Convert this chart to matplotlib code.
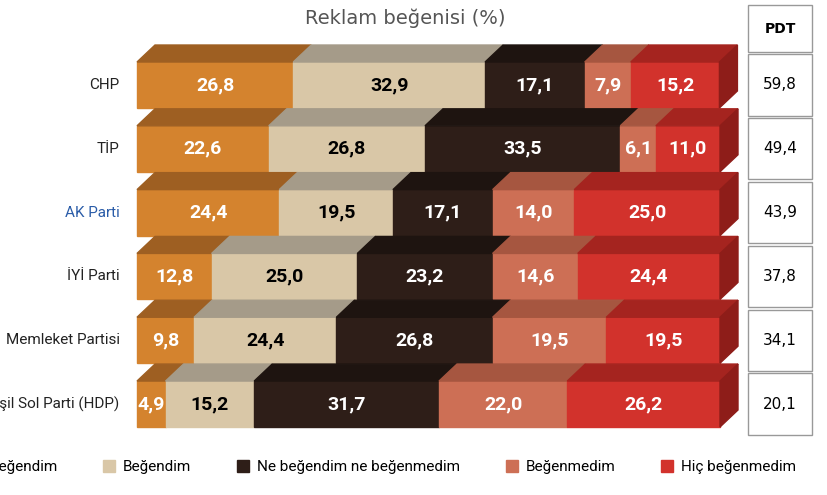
import matplotlib
matplotlib.use("Agg")
import matplotlib.pyplot as plt
from matplotlib.patches import Polygon, Rectangle, Patch
from matplotlib import font_manager as fm

names = {f.name for f in fm.fontManager.ttflist}
NARROW = "Liberation Sans Narrow" if "Liberation Sans Narrow" in names else "Roboto"

parties = ["CHP", "TİP", "AK Parti", "İYİ Parti", "Memleket Partisi", "Yeşil Sol Parti (HDP)"]
cats = ["Çok beğendim", "Beğendim", "Ne beğendim ne beğenmedim", "Beğenmedim", "Hiç beğenmedim"]
cok = [26.8, 22.6, 24.4, 12.8, 9.8, 4.9]
beg = [32.9, 26.8, 19.5, 25.0, 24.4, 15.2]
ne = [17.1, 33.5, 17.1, 23.2, 26.8, 31.7]
begm = [7.9, 6.1, 14.0, 14.6, 19.5, 22.0]
hic = [15.2, 11.0, 25.0, 24.4, 19.5, 26.2]
pdt = [59.8, 49.4, 43.9, 37.8, 34.1, 20.1]

series = [cok, beg, ne, begm, hic]
front = ["#D4832E", "#D9C7A7", "#2E1E18", "#CD6F55", "#D2322C"]
top = ["#9E5F22", "#A59B89", "#1E1410", "#A65640", "#A5241F"]
side = ["#8A501C", "#8C8270", "#140C08", "#8E4634", "#8E1D19"]
txtc = ["white", "black", "white", "white", "white"]

W, H = 827, 495
fig = plt.figure(figsize=(W/100, H/100), dpi=100)
ax = fig.add_axes([137/W, 25/H, 583/W, 430/H])
ax.set_xlim(0, 100)
ax.set_ylim(6.034, -0.705)
ax.axis("off")

bh = 0.72
dx = 18/5.83
dy = 17/63.8
n = len(parties)
for i in range(n):
    left = 0
    for k, s in enumerate(series):
        v = s[i]
        yt = i - bh/2
        ax.add_patch(Rectangle((left, yt), v, bh, color=front[k], clip_on=False))
        ax.add_patch(Polygon([(left, yt), (left+v, yt), (left+v+dx, yt-dy), (left+dx, yt-dy)],
                             closed=True, color=top[k], clip_on=False))
        ax.text(left + v/2, i, f"{v:.1f}".replace(".", ","), ha="center", va="center",
                color=txtc[k], fontsize=14, fontweight="bold", family=NARROW)
        left += v
    k = len(series) - 1
    yt = i - bh/2
    ax.add_patch(Polygon([(left, yt), (left+dx, yt-dy), (left+dx, yt+bh-dy), (left, yt+bh)],
                         closed=True, color=side[k], clip_on=False))
    ax.text(-3, i, parties[i], ha="right", va="center", fontsize=11, family=NARROW,
            color="#2a5ca8" if parties[i] == "AK Parti" else "#222222")

# PDT table
tx = fig.add_axes([748/W, 25/H, 64/W, 430/H])
tx.set_xlim(0, 1)
tx.set_ylim(6.034, -0.705)
tx.axis("off")
tx.add_patch(Rectangle((0, -1.25), 1, 0.73, fill=False, ec="#999999", lw=1, clip_on=False))
tx.text(0.5, -0.88, "PDT", ha="center", va="center", fontsize=10, fontweight="bold", clip_on=False)
for i, p in enumerate(pdt):
    tx.add_patch(Rectangle((0, i-0.48), 1, 0.96, fill=False, ec="#999999", lw=1, clip_on=False))
    tx.text(0.5, i, f"{p:.1f}".replace(".", ","), ha="center", va="center", fontsize=11)

fig.text(405/W, 1-18/H, "Reklam beğenisi (%)", ha="center", va="center", fontsize=14, color="#555555")
handles = [Patch(color=c, label=l) for c, l in zip(front, cats)]
fig.legend(handles=handles, loc="center", bbox_to_anchor=(368/W, 1-467/H), ncol=5, frameon=False,
           fontsize=11, prop={"family": NARROW, "size": 11}, handlelength=0.8, handleheight=0.8,
           columnspacing=3.0, handletextpad=0.5)
fig.savefig("out.png", dpi=100)
